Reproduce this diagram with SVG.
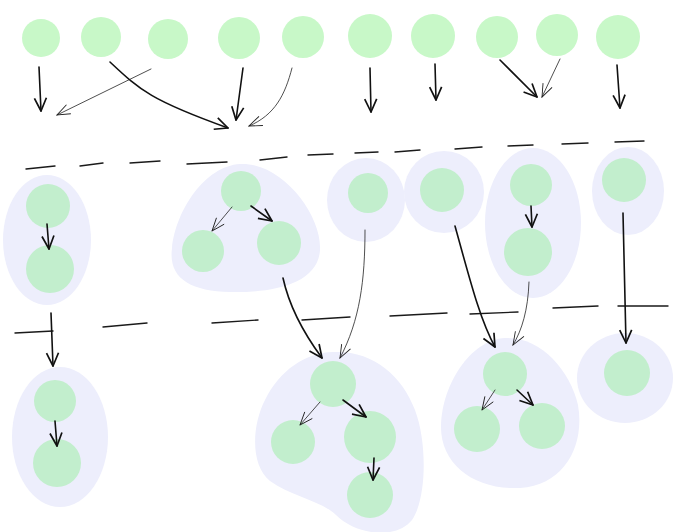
<svg xmlns="http://www.w3.org/2000/svg" width="694" height="532" viewBox="0 0 694 532">
<style>
.top{fill:#c8f8c8}
.in{fill:#c2eecd}
.blob{fill:#edeefc}
.dash{stroke:#1a1a1a;stroke-width:1.4;stroke-linecap:round;fill:none}
.a{stroke:#111;stroke-width:1.6;fill:none;stroke-linecap:round;marker-end:url(#ah)}
.t{stroke:#222;stroke-width:0.8;fill:none;stroke-linecap:round;marker-end:url(#aht)}
</style>
<defs>
<marker id="ah" viewBox="0 0 16 16" refX="15" refY="8" markerWidth="16" markerHeight="16" markerUnits="userSpaceOnUse" orient="auto">
<path d="M2,2 L15,8 L2,14" fill="none" stroke="#111" stroke-width="1.7" stroke-linejoin="round"/>
</marker>
<marker id="aht" viewBox="0 0 16 16" refX="15" refY="8" markerWidth="16" markerHeight="16" markerUnits="userSpaceOnUse" orient="auto">
<path d="M2,3 L15,8 L2,13" fill="none" stroke="#222" stroke-width="0.9"/>
</marker>
</defs>
<rect width="694" height="532" fill="#ffffff"/>

<g id="dividers">
<path class="dash" d="M26,169 L55,166 M80,166 L103,163 M130,163 L160,161 M187,164 L227,162 M260,160 L287,157 M308,155 L333,154 M355,153 L378,152 M395,152 L420,150 M455,149 L482,147 M508,146 L533,145 M562,144 L588,143 M615,142 L644,141"/>
<path class="dash" d="M15,333 L53,331 M103,327 L147,323 M212,323 L258,320 M302,320 L350,317 M390,316 L447,313 M470,314 L518,312 M553,308 L598,306 M618,306 L668,306"/>
</g>

<g id="top-row">
<circle id="t1" class="top" cx="41" cy="38" r="19"/>
<circle id="t2" class="top" cx="101" cy="37" r="20"/>
<circle id="t3" class="top" cx="168" cy="39" r="20"/>
<circle id="t4" class="top" cx="239" cy="38" r="21"/>
<circle id="t5" class="top" cx="303" cy="37" r="21"/>
<circle id="t6" class="top" cx="370" cy="36" r="22"/>
<circle id="t7" class="top" cx="433" cy="36" r="22"/>
<circle id="t8" class="top" cx="497" cy="37" r="21"/>
<circle id="t9" class="top" cx="557" cy="35" r="21"/>
<circle id="t10" class="top" cx="618" cy="37" r="22"/>
</g>

<g id="groupA">
<ellipse class="blob" cx="47" cy="240" rx="44" ry="65"/>
<circle class="in" cx="48" cy="206" r="22"/>
<circle class="in" cx="50" cy="269" r="24"/>
</g>
<g id="groupB">
<path class="blob" d="M240,164 C282,162 322,215 320,250 C318,285 270,293 230,292 C190,291 168,278 172,248 C176,210 205,166 240,164 Z"/>
<circle class="in" cx="241" cy="191" r="20"/>
<circle class="in" cx="203" cy="251" r="21"/>
<circle class="in" cx="279" cy="243" r="22"/>
</g>
<g id="groupC">
<ellipse class="blob" cx="366" cy="200" rx="39" ry="42"/>
<circle class="in" cx="368" cy="193" r="20"/>
</g>
<g id="groupD">
<ellipse class="blob" cx="444" cy="192" rx="40" ry="41"/>
<circle class="in" cx="442" cy="190" r="22"/>
</g>
<g id="groupE">
<ellipse class="blob" cx="533" cy="223" rx="48" ry="75"/>
<circle class="in" cx="531" cy="185" r="21"/>
<circle class="in" cx="528" cy="252" r="24"/>
</g>
<g id="groupF">
<ellipse class="blob" cx="628" cy="191" rx="36" ry="44"/>
<circle class="in" cx="624" cy="180" r="22"/>
</g>

<g id="groupG">
<ellipse class="blob" cx="60" cy="437" rx="48" ry="70"/>
<circle class="in" cx="55" cy="401" r="21"/>
<circle class="in" cx="57" cy="463" r="24"/>
</g>
<g id="groupH">
<path class="blob" d="M333,352 C372,350 402,375 415,410 C428,445 426,500 412,520 C396,540 356,535 336,515 C320,500 290,496 270,481 C250,465 252,425 265,400 C280,370 305,353 333,352 Z"/>
<circle class="in" cx="333" cy="384" r="23"/>
<circle class="in" cx="293" cy="442" r="22"/>
<circle class="in" cx="370" cy="437" r="26"/>
<circle class="in" cx="370" cy="495" r="23"/>
</g>
<g id="groupI">
<path class="blob" d="M505,338 C540,336 570,370 578,405 C585,445 565,485 520,488 C475,490 440,465 441,425 C442,385 470,340 505,338 Z"/>
<circle class="in" cx="505" cy="374" r="22"/>
<circle class="in" cx="477" cy="429" r="23"/>
<circle class="in" cx="542" cy="426" r="23"/>
</g>
<g id="groupJ">
<ellipse class="blob" cx="625" cy="378" rx="48" ry="45"/>
<circle class="in" cx="627" cy="373" r="23"/>
</g>

<g id="connectors">
<path class="a" d="M39,67 L41,111"/>
<path class="t" d="M151,69 L57,115"/>
<path class="a" d="M110,62 C140,90 150,100 228,128"/>
<path class="a" d="M243,68 L236,120"/>
<path class="t" d="M292,68 C285,95 275,115 249,126"/>
<path class="a" d="M370,68 L371,112"/>
<path class="a" d="M435,64 L436,100"/>
<path class="a" d="M500,60 L537,97"/>
<path class="t" d="M560,59 L542,97"/>
<path class="a" d="M617,65 L620,108"/>

<path class="a" d="M47,224 L49,249"/>
<path class="t" d="M232,207 L212,231"/>
<path class="a" d="M251,206 L272,221"/>
<path class="a" d="M531,206 L532,227"/>

<path class="a" d="M51,313 L53,366"/>
<path class="a" d="M283,278 C290,310 305,335 322,358"/>
<path class="t" d="M365,230 C365,280 360,320 340,358"/>
<path class="a" d="M455,226 C470,280 480,320 495,347"/>
<path class="t" d="M529,282 C528,310 522,330 513,345"/>
<path class="a" d="M623,213 L626,343"/>

<path class="a" d="M55,421 L57,446"/>
<path class="t" d="M320,402 L300,425"/>
<path class="a" d="M343,400 L366,417"/>
<path class="a" d="M374,458 L373,480"/>
<path class="t" d="M495,390 L482,410"/>
<path class="a" d="M517,390 L533,405"/>
</g>
</svg>
